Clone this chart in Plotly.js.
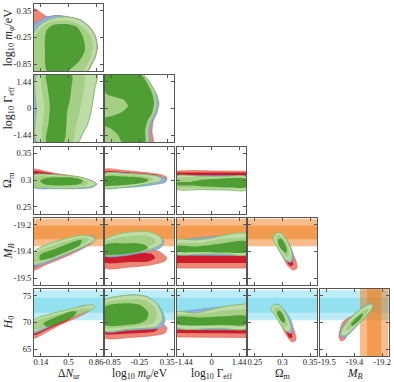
<!DOCTYPE html>
<html><head><meta charset="utf-8">
<script src="https://cdn.plot.ly/plotly-3.0.1.min.js"></script>
<style>html,body{margin:0;padding:0;background:#fff}#plot{width:394px;height:382px}</style>
</head><body><div id="plot"></div>
<script>
// ---------- axes / parameters ----------
const xParams = ['dN','mphi','gam','om','mb'];
const yParams = ['mphi','gam','om','mb','h0'];
const axisRange = {dN:[0.05,0.95], mphi:[-1.0,0.5], gam:[-1.8,1.8], om:[0.2375,0.3625], mb:[-19.55,-19.15], h0:[63.75,76.25]};
const tickValues = {dN:[0.14,0.5,0.86], mphi:[-0.85,-0.25,0.35], gam:[-1.44,0,1.44], om:[0.25,0.3,0.35], mb:[-19.51,-19.35,-19.19], h0:[65,70,75]};
const tickLabels = {dN:['0.14','0.5','0.86'], mphi:['-0.85','-0.25','0.35'], gam:['-1.44','0','1.44'], om:['0.25','0.3','0.35'], mb:['-19.5','-19.4','-19.2'], h0:['65','70','75']};
const axisTitles = {dN:'Δ<i>N</i><sub>ur</sub>', mphi:'log<sub>10</sub> <i>m<sub>φ</sub></i>/eV', gam:'log<sub>10</sub> Γ<sub>eff</sub>', om:'Ω<sub>m</sub>', mb:'<i>M<sub>B</sub></i>', h0:'<i>H</i><sub>0</sub>'};

// Gaussian priors shown as bands
const MB_prior = {mean:-19.236, sigma:0.041};
const H0_prior = {mean:73.2, sigma:1.4};

// ---------- contours, data units ----------
const mphi_dN = {
 red95:{x:[0.05,0.22,0.35,0.49,0.65,0.775,0.85,0.877,0.85,0.80,0.75,0.05], y:[0.39,0.22,0.24,0.21,0.15,-0.01,-0.215,-0.463,-0.69,-0.865,-1,-1]},
 blue95:{x:[0.05,0.13,0.22,0.35,0.49,0.652,0.77,0.848,0.874,0.848,0.796,0.745,0.05], y:[0.03,0.13,0.21,0.245,0.215,0.145,-0.012,-0.215,-0.463,-0.688,-0.865,-1,-1]},
 green95:{x:[0.05,0.05,0.115,0.21,0.32,0.49,0.65,0.77,0.845,0.87,0.845,0.79,0.74], y:[-1,-0.15,0.01,0.12,0.19,0.21,0.14,-0.02,-0.22,-0.46,-0.69,-0.87,-1]},
 greenMid:{x:[0.05,0.05,0.12,0.21,0.32,0.48,0.62,0.73,0.80,0.82,0.79,0.73,0.69], y:[-1,-0.25,-0.07,0.06,0.12,0.13,0.06,-0.08,-0.26,-0.48,-0.70,-0.90,-1]},
 green68:{x:[0.216,0.298,0.454,0.611,0.689,0.715,0.65,0.546,0.48,0.219,0.193,0.193], y:[-0.082,0.03,0.051,-0.014,-0.24,-0.53,-0.754,-0.932,-1,-1,-0.53,-0.26]}
};
const gam_dN = {
 blue95:{x:[0.05,0.05,0.869,0.842,0.815,0.788,0.743,0.68,0.626], y:[-1.8,1.8,1.8,1.08,0.36,-0.29,-0.9,-1.37,-1.8]},
 green95:{x:[0.086,0.082,0.086,0.869,0.842,0.815,0.788,0.743,0.68,0.626], y:[-1.8,0,1.8,1.8,1.08,0.36,-0.29,-0.9,-1.37,-1.8]},
 greenMid:{x:[0.167,0.185,0.158,0.698,0.689,0.644,0.59,0.554], y:[-1.8,0,1.8,1.8,0.72,-0.18,-1.08,-1.8]},
 green68:{x:[0.212,0.545,0.536,0.518,0.482,0.473,0.437,0.212,0.239,0.257,0.23], y:[1.8,1.8,1.08,0.468,-0.18,-0.792,-1.8,-1.8,-0.792,0.18,1.08]}
};
const gam_mphi = {
 red95:{x:[-1,-0.174,-0.022,0.087,0.152,0.109,0.043,0.022,0.043,-1], y:[1.8,1.8,1.37,0.833,0.296,-0.242,-0.725,-1.263,-1.8,-1.8]},
 blue95:{x:[-1,-0.174,-0.022,0.109,0.174,0.130,0.022,-0.022,-0.022,-1], y:[1.8,1.8,1.37,0.833,0.296,-0.242,-0.725,-1.263,-1.8,-1.8]},
 green95:{x:[-1,-0.174,-0.022,0.087,0.130,0.087,-0.022,-0.065,-0.065,-1], y:[1.8,1.8,1.37,0.833,0.296,-0.242,-0.725,-1.263,-1.8,-1.8]},
 greenMid:{x:[-1,-0.196,-0.043,0.065,0.109,0.065,-0.043,-0.087,-0.087,-1], y:[1.8,1.8,1.37,0.833,0.296,-0.242,-0.725,-1.263,-1.8,-1.8]},
 green68:{x:[-1,-0.217,-0.087,0.022,0.065,0.022,-0.087,-0.13,-0.13,-0.63,-0.717,-0.891,-1,-1,-0.848,-0.63,-0.5,-0.587,-0.783,-0.935,-1], y:[1.8,1.8,1.37,0.833,0.296,-0.242,-0.725,-1.263,-1.8,-1.8,-1.424,-1.048,-0.94,-0.51,-0.403,-0.188,0.134,0.457,0.618,0.725,0.887]}
};
const om_dN = {
 red95:{x:[0.05,0.167,0.324,0.48,0.65,0.807,0.846,0.754,0.389,0.05], y:[0.320,0.3174,0.3125,0.3093,0.3056,0.2981,0.2925,0.2879,0.2869,0.2879]},
 red68:{x:[0.05,0.193,0.324,0.454,0.52,0.389,0.05], y:[0.3159,0.3144,0.3112,0.3075,0.300,0.2925,0.2925]},
 blue95:{x:[0.05,0.389,0.65,0.807,0.872,0.807,0.585,0.324,0.05], y:[0.3093,0.3084,0.3040,0.2985,0.2925,0.2860,0.2837,0.2837,0.2860]},
 green95:{x:[0.05,0.259,0.48,0.689,0.82,0.859,0.807,0.65,0.389,0.193,0.05], y:[0.3093,0.3103,0.3084,0.3037,0.2972,0.2925,0.2879,0.2854,0.2847,0.2854,0.2869]},
 greenMid:{x:[0.05,0.259,0.48,0.65,0.754,0.728,0.585,0.324,0.05], y:[0.3065,0.3075,0.3060,0.3019,0.2963,0.2907,0.2879,0.2873,0.2888]},
 green68:{x:[0.128,0.193,0.324,0.493,0.624,0.689,0.65,0.52,0.324,0.193], y:[0.2981,0.3034,0.3052,0.3050,0.3026,0.2981,0.2929,0.2901,0.2898,0.2916]}
};
const om_mphi = {
 red95:{x:[-1,-0.674,-0.348,-0.022,0.196,0.326,0.348,0.239,-0.022,-0.674,-1], y:[0.32,0.3187,0.3159,0.3131,0.3103,0.3065,0.3019,0.2981,0.2963,0.2925,0.2907]},
 red68:{x:[-1,-0.565,-0.13,0.13,0.196,-0.022,-1], y:[0.3155,0.3144,0.3121,0.3093,0.3056,0.300,0.2963]},
 blue95:{x:[-1,-0.457,-0.022,0.239,0.348,0.304,0.152,-0.239,-0.674,-1], y:[0.3121,0.3121,0.3100,0.3056,0.300,0.2953,0.2925,0.2879,0.2851,0.2845]},
 green95:{x:[-1,-0.565,-0.13,0.13,0.239,0.196,-0.022,-0.348,-0.674,-1], y:[0.3121,0.3121,0.3103,0.3075,0.3019,0.2972,0.2935,0.2888,0.2860,0.2851]},
 greenMid:{x:[-1,-0.565,-0.174,0.022,0.043,-0.13,-0.457,-0.783,-1], y:[0.3093,0.3093,0.3075,0.3037,0.2991,0.2953,0.2907,0.2883,0.2877]},
 green68:{x:[-1,-0.565,-0.239,-0.065,-0.087,-0.283,-0.565,-0.848,-1], y:[0.3065,0.3065,0.3047,0.3013,0.2972,0.2935,0.2907,0.2892,0.2892]}
};
const om_gam = {
 red95:{x:[-1.8,-0.861,0.183,1.8,1.8,-1.8], y:[0.3168,0.3177,0.3168,0.3164,0.2888,0.2888]},
 red68:{x:[-1.8,0,1.8,1.8,-1.8], y:[0.3140,0.3145,0.3138,0.2963,0.2963]},
 blue95:{x:[-1.8,1.8,1.8,-1.8], y:[0.3085,0.3080,0.2817,0.2823]},
 green95:{x:[-1.8,-0.6,0.704,1.8,1.8,0.704,-0.6,-1.8], y:[0.3075,0.3069,0.3065,0.3060,0.2813,0.2817,0.2823,0.2832]},
 greenMid:{x:[-1.8,1.8,1.8,-1.8], y:[0.3050,0.3037,0.2841,0.2851]},
 green68:{x:[-1.8,-1.122,-0.6,0.183,1.8,1.8,0.704,-0.339,-1.122,-1.8], y:[0.2953,0.2963,0.300,0.3019,0.3022,0.2869,0.2864,0.2879,0.2898,0.2907]}
};
const mb_dN = {
 red95:{x:[0.05,0.259,0.52,0.715,0.833,0.82,0.65,0.389,0.193,0.05], y:[-19.353,-19.335,-19.293,-19.258,-19.258,-19.293,-19.341,-19.395,-19.431,-19.460]},
 red68:{x:[0.05,0.324,0.585,0.702,0.65,0.389,0.193,0.05], y:[-19.377,-19.347,-19.305,-19.293,-19.329,-19.377,-19.413,-19.443]},
 blue95:{x:[0.05,0.259,0.48,0.689,0.833,0.846,0.689,0.48,0.259,0.05], y:[-19.353,-19.305,-19.275,-19.255,-19.263,-19.284,-19.326,-19.368,-19.410,-19.437]},
 green95:{x:[0.05,0.259,0.48,0.689,0.82,0.846,0.689,0.48,0.259,0.05], y:[-19.351,-19.301,-19.271,-19.252,-19.262,-19.281,-19.321,-19.361,-19.401,-19.425]},
 greenMid:{x:[0.05,0.259,0.48,0.676,0.767,0.754,0.65,0.454,0.259,0.05], y:[-19.365,-19.320,-19.287,-19.266,-19.272,-19.287,-19.317,-19.353,-19.389,-19.413]},
 green68:{x:[0.128,0.346,0.563,0.672,0.65,0.477,0.259,0.128], y:[-19.371,-19.331,-19.292,-19.281,-19.311,-19.351,-19.391,-19.401]}
};
const mb_mphi = {
 red95:{x:[-1,-0.457,-0.022,0.196,0.341,0.304,-0.022,-0.457,-1], y:[-19.341,-19.335,-19.335,-19.353,-19.389,-19.407,-19.431,-19.443,-19.449]},
 red68:{x:[-1,-0.457,0.022,0.087,-0.065,-0.457,-1], y:[-19.359,-19.359,-19.365,-19.389,-19.410,-19.413,-19.416]},
 blue95:{x:[-1,-0.565,-0.065,0.196,0.283,0.196,-0.13,-0.565,-1], y:[-19.287,-19.243,-19.237,-19.263,-19.293,-19.329,-19.353,-19.375,-19.377]},
 green95:{x:[-1,-0.848,-0.63,-0.348,-0.065,0.13,0.239,0.239,0.13,-0.13,-0.457,-0.783,-1], y:[-19.281,-19.258,-19.240,-19.231,-19.231,-19.249,-19.275,-19.299,-19.323,-19.344,-19.362,-19.371,-19.374]},
 greenMid:{x:[-1,-0.783,-0.457,-0.13,0.043,0.109,-0.022,-0.348,-0.783,-1], y:[-19.293,-19.272,-19.258,-19.255,-19.269,-19.293,-19.317,-19.341,-19.359,-19.362]},
 green68:{x:[-1,-0.783,-0.565,-0.348,-0.13,-0.065,-0.239,-0.565,-0.891,-1], y:[-19.311,-19.299,-19.302,-19.299,-19.311,-19.329,-19.350,-19.365,-19.371,-19.371]}
};
const mb_gam = {
 red95:{x:[-1.8,1.8,1.8,-1.8], y:[-19.323,-19.323,-19.449,-19.449]},
 red68:{x:[-1.8,1.8,1.8,-1.8], y:[-19.341,-19.341,-19.419,-19.419]},
 blue95:{x:[-1.8,1.8,1.8,-1.8], y:[-19.281,-19.243,-19.375,-19.372]},
 green95:{x:[-1.8,-0.861,-0.078,0.704,1.8,1.8,0.704,-0.6,-1.8], y:[-19.281,-19.281,-19.272,-19.252,-19.243,-19.368,-19.365,-19.365,-19.365]},
 greenMid:{x:[-1.8,-0.6,0.443,1.8,1.8,-1.8], y:[-19.299,-19.299,-19.275,-19.266,-19.359,-19.356]},
 green68:{x:[-1.8,-0.861,-0.078,0.704,1.8,1.8,0.704,-0.6,-1.8], y:[-19.317,-19.320,-19.311,-19.299,-19.290,-19.353,-19.356,-19.353,-19.350]}
};
const mb_om = {
 red95:{x:[0.2955,0.3045,0.3154,0.3245,0.3263,0.319,0.31,0.3009,0.2937], y:[-19.269,-19.293,-19.341,-19.407,-19.449,-19.460,-19.437,-19.383,-19.329]},
 red68:{x:[0.3009,0.31,0.3172,0.319,0.3136,0.3063,0.2991], y:[-19.317,-19.347,-19.395,-19.431,-19.437,-19.401,-19.359]},
 blue95:{x:[0.2846,0.29,0.2973,0.3082,0.3172,0.3199,0.3154,0.3063,0.2973,0.2882,0.2828], y:[-19.258,-19.237,-19.240,-19.281,-19.341,-19.389,-19.416,-19.407,-19.365,-19.311,-19.275]},
 green95:{x:[0.2846,0.29,0.2973,0.3063,0.3154,0.3172,0.3136,0.3063,0.2973,0.2882,0.2828], y:[-19.258,-19.237,-19.240,-19.275,-19.335,-19.383,-19.407,-19.401,-19.359,-19.311,-19.275]},
 greenMid:{x:[0.2882,0.2937,0.3009,0.31,0.3118,0.3063,0.2991,0.29], y:[-19.263,-19.252,-19.269,-19.323,-19.371,-19.383,-19.347,-19.299]},
 green68:{x:[0.2918,0.2973,0.3027,0.3082,0.3063,0.3009,0.2937], y:[-19.281,-19.272,-19.293,-19.341,-19.359,-19.347,-19.317]}
};
const h0_dN = {
 red95:{x:[0.05,0.389,0.70,0.80,0.65,0.389,0.193,0.05], y:[69.9,71.1,72.6,72.5,71.2,69.53,68.04,67.11]},
 red68:{x:[0.05,0.324,0.585,0.52,0.324,0.193,0.05], y:[69.16,70.28,71.77,70.65,69.35,68.51,67.67]},
 blue95:{x:[0.05,0.389,0.715,0.846,0.65,0.389,0.193,0.05], y:[70.28,71.77,73.2,72.85,71.6,70.1,68.79,68.04]},
 green95:{x:[0.05,0.259,0.476,0.693,0.823,0.846,0.78,0.607,0.389,0.216,0.05], y:[70.47,71.59,72.33,73.08,73.27,72.84,72.33,71.40,70.15,69.22,68.28]},
 greenMid:{x:[0.05,0.259,0.476,0.693,0.78,0.715,0.52,0.324,0.05], y:[70.0,71.1,71.95,72.65,72.6,72.0,71.0,69.9,68.7]},
 green68:{x:[0.171,0.346,0.52,0.607,0.563,0.389,0.216], y:[69.85,71.08,72.02,72.02,71.08,69.96,69.22]}
};
const h0_mphi = {
 red95:{x:[-1,-0.239,0.196,0.348,0.304,-0.022,-0.457,-1], y:[70.09,70.47,70.09,68.97,68.04,67.48,67.20,67.11]},
 red68:{x:[-1,-0.239,0.152,0.087,-0.239,-0.674,-1], y:[69.35,69.35,68.97,68.32,68.04,67.85,67.85]},
 blue95:{x:[-1,-0.746,-0.385,-0.093,0.124,0.261,0.304,0.217,-0.167,-0.528,-1], y:[74.20,74.85,75.17,74.85,73.64,71.77,70.28,69.07,68.69,68.51,68.32]},
 green95:{x:[-1,-0.746,-0.385,-0.093,0.124,0.233,0.246,0.124,-0.167,-0.528,-1], y:[74.20,74.81,75.13,74.81,73.58,71.72,70.47,69.22,68.92,68.73,68.47]},
 greenMid:{x:[-1,-0.674,-0.348,-0.087,0.087,0.13,0.043,-0.239,-0.674,-1], y:[73.64,74.20,74.38,74.01,72.71,71.21,69.91,69.35,69.07,68.97]},
 green68:{x:[-1,-0.528,-0.239,-0.065,-0.087,-0.239,-0.528,-1], y:[72.95,73.58,73.27,71.96,70.65,69.85,69.53,69.53]}
};
const h0_gam = {
 red95:{x:[-1.8,1.8,1.8,-1.8], y:[70.47,70.47,67.20,67.29]},
 red68:{x:[-1.8,1.8,1.8,-1.8], y:[69.53,69.53,67.95,68.04]},
 blue95:{x:[-1.8,1.8,1.8,-1.8], y:[71.96,73.45,68.60,68.69]},
 green95:{x:[-1.8,-0.861,-0.078,0.704,1.487,1.8,1.8,0.443,-1.8], y:[71.96,71.77,72.33,72.99,73.36,73.36,68.88,68.92,69.07]},
 greenMid:{x:[-1.8,-0.6,0.443,1.8,1.8,-1.8], y:[71.59,71.49,72.15,72.52,69.25,69.44]},
 green68:{x:[-1.8,-0.6,0.443,1.8,1.8,0.443,-1.8], y:[71.03,70.93,71.12,71.21,69.63,69.53,69.72]}
};
const h0_om = {
 red95:{x:[0.2937,0.3045,0.3154,0.3226,0.3245,0.3172,0.3082,0.2991,0.2918], y:[71.77,71.21,69.91,68.04,66.74,66.36,67.48,69.16,70.65]},
 red68:{x:[0.3009,0.31,0.3172,0.3172,0.3118,0.3063,0.2991], y:[70.47,69.53,68.04,67.11,67.20,68.41,69.53]},
 blue95:{x:[0.281,0.2864,0.2937,0.3045,0.3154,0.319,0.3154,0.3063,0.2955,0.2864,0.2792], y:[72.89,73.36,73.27,72.15,70.47,68.79,67.95,68.41,69.91,71.40,72.43]},
 green95:{x:[0.281,0.2864,0.2937,0.3027,0.3118,0.3154,0.3118,0.3045,0.2955,0.2864,0.2792], y:[72.89,73.36,73.27,72.15,70.47,68.97,68.23,68.60,69.91,71.40,72.43]},
 greenMid:{x:[0.2846,0.29,0.2973,0.3063,0.3091,0.3045,0.2973,0.2882], y:[72.52,72.89,72.43,70.84,69.53,69.16,70.28,71.59]},
 green68:{x:[0.29,0.2937,0.2991,0.3045,0.3027,0.2973,0.2918], y:[71.96,72.24,71.77,70.47,69.91,70.28,71.21]}
};
const h0_mb = {
 red95:{x:[-19.417,-19.376,-19.341,-19.365,-19.388,-19.405,-19.428,-19.440,-19.434], y:[70.09,71.03,71.21,69.72,68.04,66.92,66.55,67.29,68.60]},
 red68:{x:[-19.411,-19.376,-19.365,-19.388,-19.405,-19.423,-19.428], y:[69.35,70.28,70.09,68.60,67.48,67.39,68.23]},
 blue95:{x:[-19.428,-19.388,-19.341,-19.295,-19.260,-19.240,-19.251,-19.295,-19.341,-19.382,-19.411,-19.434], y:[68.79,70.47,71.87,72.99,73.55,73.27,72.33,70.75,69.16,67.85,67.20,67.48]},
 green95:{x:[-19.423,-19.388,-19.341,-19.295,-19.260,-19.243,-19.254,-19.295,-19.341,-19.382,-19.411,-19.428], y:[68.60,70.28,71.77,72.89,73.45,73.17,72.33,70.84,69.35,68.04,67.48,67.76]},
 greenMid:{x:[-19.399,-19.365,-19.324,-19.283,-19.266,-19.283,-19.324,-19.365,-19.394], y:[68.97,70.47,71.59,72.52,72.43,71.59,70.28,68.97,68.41]},
 green68:{x:[-19.370,-19.341,-19.312,-19.301,-19.312,-19.341,-19.365], y:[69.72,70.84,71.59,71.59,70.75,69.81,69.35]}
};

// ---------- build ----------
const panelData = [
 [mphi_dN],
 [gam_dN, gam_mphi],
 [om_dN, om_mphi, om_gam],
 [mb_dN, mb_mphi, mb_gam, mb_om],
 [h0_dN, h0_mphi, h0_gam, h0_om, h0_mb]
];
const levelOrder = ['red95','red68','blue95','green95','greenMid','green68'];
const levelStyle = {
 red95:{fill:'#ec8675', line:'#dc5f50', w:0.6},
 red68:{fill:'#cf1a2c', line:'#cf1a2c', w:0},
 blue95:{fill:'#8fb0e3', line:'#6d92d5', w:0.6},
 green95:{fill:'#bedda6', line:'#86c064', w:0.9},
 greenMid:{fill:'#a4cf85', line:'#a4cf85', w:0},
 green68:{fill:'#4f9e34', line:'#4f9e34', w:0}
};
const W = 394, H = 382;
const colLeft = [34,105,177,248,320], panelW = 69;
const rowTop = [4,75,146.5,218,289], panelH = 67;
const FONT = 'Liberation Serif, DejaVu Serif, serif';

const traces = [];
const layout = {
  width: W, height: H, autosize: false,
  margin: {l:0, r:0, t:0, b:0},
  paper_bgcolor: '#fff', plot_bgcolor: '#fff',
  showlegend: false, hovermode: false,
  font: {family: FONT, color: '#222'},
  shapes: [], annotations: []
};
function axisBase(p) {
  return {
    range: axisRange[p], tickvals: tickValues[p], ticktext: tickLabels[p],
    tickmode: 'array', showgrid: false, zeroline: false,
    showline: true, linecolor: '#555', linewidth: 1, mirror: 'ticks',
    ticks: 'inside', ticklen: 3, tickwidth: 1, tickcolor: '#555',
    tickfont: {family: FONT, size: 8.5, color: '#222'}, fixedrange: true
  };
}
function bandRect(k, prior, horizontal) {
  const sx = k === 1 ? '' : k;
  [2, 1].forEach(n => {
    const lo = prior.mean - n * prior.sigma, hi = prior.mean + n * prior.sigma;
    const s = {type: 'rect', layer: 'below', line: {width: 0}};
    if (horizontal) {
      Object.assign(s, {xref: 'x' + sx + ' domain', yref: 'y' + sx, x0: 0, x1: 1, y0: lo, y1: hi});
    } else {
      Object.assign(s, {xref: 'x' + sx, yref: 'y' + sx + ' domain', y0: 0, y1: 1, x0: lo, x1: hi});
    }
    s.fillcolor = prior === H0_prior ? 'rgba(80,205,232,0.38)' : 'rgba(240,122,22,0.5)';
    layout.shapes.push(s);
  });
}

let k = 0;
for (let r = 0; r < 5; r++) {
  for (let c = 0; c <= r; c++) {
    k++;
    const sx = k === 1 ? '' : String(k);
    const xp = xParams[c], yp = yParams[r];
    const xa = axisBase(xp), ya = axisBase(yp);
    xa.ticklabelstandoff = -2;
    xa.domain = [colLeft[c] / W, (colLeft[c] + panelW) / W];
    ya.domain = [1 - (rowTop[r] + panelH) / H, 1 - rowTop[r] / H];
    xa.anchor = 'y' + sx; ya.anchor = 'x' + sx;
    xa.showticklabels = (r === 4);
    ya.showticklabels = (c === 0);
    layout['xaxis' + sx] = xa;
    layout['yaxis' + sx] = ya;
    if (r === 4) layout.annotations.push({
      text: axisTitles[xp], xref: 'x' + sx + ' domain', x: 0.5, yref: 'paper', y: 1 - 373.5 / H,
      xanchor: 'center', yanchor: 'middle', showarrow: false, borderpad: 0,
      font: {family: FONT, size: 11.5, color: '#222'}
    });
    if (c === 0) layout.annotations.push({
      text: axisTitles[yp], yref: 'y' + sx + ' domain', y: 0.5, xref: 'paper', x: 8 / W,
      xanchor: 'center', yanchor: 'middle', textangle: -90, showarrow: false, borderpad: 0,
      font: {family: FONT, size: 12, color: '#222'}
    });

    if (yp === 'mb') bandRect(k, MB_prior, true);
    if (yp === 'h0') bandRect(k, H0_prior, true);
    if (xp === 'mb') bandRect(k, MB_prior, false);

    const pd = panelData[r][c];
    levelOrder.forEach(lv => {
      const poly = pd[lv];
      if (!poly) return;
      const st = levelStyle[lv];
      const smooth = poly.x.length > 6;
      const xs = poly.x.slice(), ys = poly.y.slice();
      if (smooth) { xs.push(poly.x[0]); ys.push(poly.y[0]); }
      traces.push({
        type: 'scatter', mode: 'lines', x: xs, y: ys,
        xaxis: 'x' + sx, yaxis: 'y' + sx,
        fill: 'toself', fillcolor: st.fill,
        line: {color: st.line, width: st.w, shape: smooth ? 'spline' : 'linear', smoothing: 0.7},
        hoverinfo: 'skip', showlegend: false
      });
    });
  }
}
Plotly.newPlot('plot', traces, layout, {staticPlot: true, displayModeBar: false});
</script>
</body></html>
